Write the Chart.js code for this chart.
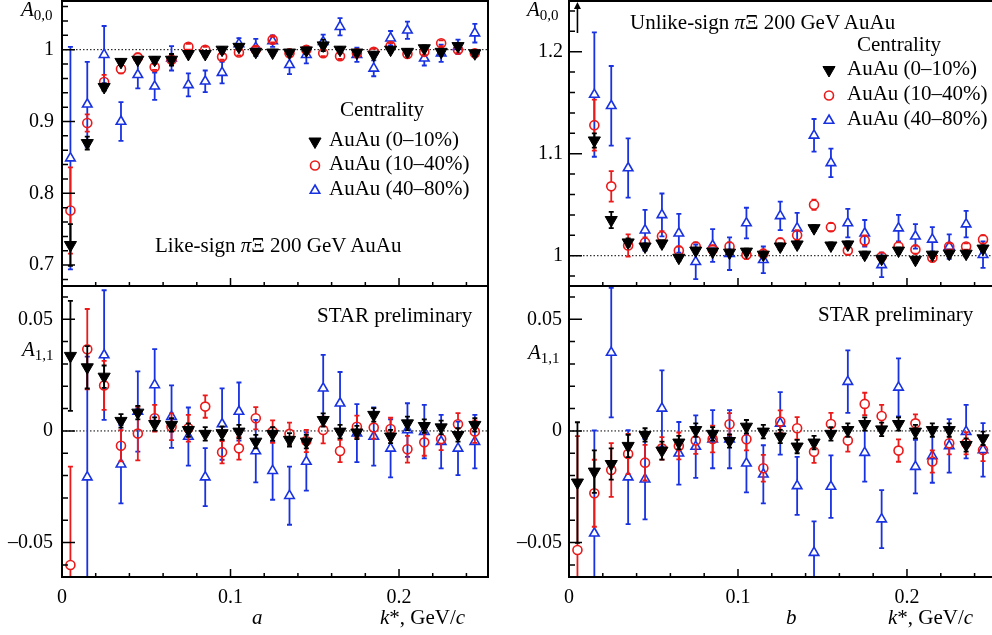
<!DOCTYPE html>
<html>
<head>
<meta charset="utf-8">
<script src="https://cdn.jsdelivr.net/npm/chart.js@4.4.1/dist/chart.umd.min.js"></script>
<style>
html, body { margin: 0; padding: 0; background: #fff; overflow: hidden; width: 992px; height: 635px; }
#wrap { position: relative; width: 992px; height: 635px; overflow: hidden; }
canvas { position: absolute; left: 0; top: 0; }
.t { position: absolute; font-family: "Liberation Serif", "Times New Roman", serif; font-size: 21px; line-height: 1; white-space: nowrap; color: #000; }
.t i { font-style: italic; }
.t sub { font-size: 15px; vertical-align: baseline; position: relative; top: 4px; }
</style>
</head>
<body>
<div id="wrap">
  <canvas id="aTop" width="1000" height="635"></canvas>
  <canvas id="aBot" width="1000" height="635"></canvas>
  <canvas id="bTop" width="1000" height="635"></canvas>
  <canvas id="bBot" width="1000" height="635"></canvas>

  <div class="t" style="left:21px;top:-1px"><i>A</i><sub>0,0</sub></div>
  <div class="t" style="left:22px;top:339px"><i>A</i><sub>1,1</sub></div>
  <div class="t" style="left:527px;top:-1px"><i>A</i><sub>0,0</sub></div>
  <div class="t" style="left:528px;top:342px"><i>A</i><sub>1,1</sub></div>

  <div class="t" style="left:155px;top:235px">Like-sign <i>π</i>Ξ 200 GeV AuAu</div>
  <div class="t" style="left:340px;top:99px">Centrality</div>
  <div class="t" style="left:329px;top:129px">AuAu (0–10%)</div>
  <div class="t" style="left:329px;top:153px">AuAu (10–40%)</div>
  <div class="t" style="left:329px;top:178px">AuAu (40–80%)</div>
  <div class="t" style="left:317px;top:305px">STAR preliminary</div>

  <div class="t" style="left:630px;top:12px">Unlike-sign <i>π</i>Ξ 200 GeV AuAu</div>
  <div class="t" style="left:857px;top:34px">Centrality</div>
  <div class="t" style="left:847px;top:58px">AuAu (0–10%)</div>
  <div class="t" style="left:847px;top:83px">AuAu (10–40%)</div>
  <div class="t" style="left:847px;top:108px">AuAu (40–80%)</div>
  <div class="t" style="left:818px;top:304px">STAR preliminary</div>

  <div class="t" style="left:252px;top:607px"><i>a</i></div>
  <div class="t" style="left:380px;top:607px"><i>k</i>*, GeV/<i>c</i></div>
  <div class="t" style="left:786px;top:607px"><i>b</i></div>
  <div class="t" style="left:888px;top:607px"><i>k</i>*, GeV/<i>c</i></div>
</div>
<script>
// k* bin centres, GeV/c
const kStar = [0.005, 0.015, 0.025, 0.035, 0.045, 0.055, 0.065, 0.075, 0.085, 0.095,
               0.105, 0.115, 0.125, 0.135, 0.145, 0.155, 0.165, 0.175, 0.185, 0.195,
               0.205, 0.215, 0.225, 0.235, 0.245];

const xTickVals = [0, 0.1, 0.2];
const yTicksA00like = [0.7, 0.8, 0.9, 1];
const yTicksA00unlike = [1, 1.1, 1.2];
const yTicksA11 = [-0.05, 0, 0.05];

// like-sign A00
const likeA00_c010 = [0.728, 0.870, 0.948, 0.983, 0.986, 0.986, 0.986, 0.994, 0.994, 1.000, 1.004, 0.997, 0.996, 0.996, 0.999, 1.006, 1.000, 0.996, 0.993, 1.000, 0.997, 1.002, 0.997, 1.005, 0.995];
const likeA00_c010Err = [0.029, 0.009, 0.005, 0.004, 0.004, 0.004, 0.008, 0.004, 0.004, 0.004, 0.004, 0.004, 0.004, 0.004, 0.004, 0.008, 0.004, 0.004, 0.004, 0.004, 0.004, 0.004, 0.004, 0.004, 0.004];
const likeA00_c1040 = [0.776, 0.898, 0.955, 0.973, 0.989, 0.976, 0.986, 1.004, 1.000, 0.990, 0.996, 1.000, 1.014, 0.995, 1.000, 0.995, 0.991, 0.995, 0.997, 1.005, 0.994, 0.997, 1.009, 1.000, 0.995];
const likeA00_c1040Err = [0.060, 0.012, 0.010, 0.006, 0.006, 0.004, 0.006, 0.004, 0.004, 0.004, 0.004, 0.004, 0.004, 0.004, 0.004, 0.004, 0.004, 0.004, 0.004, 0.004, 0.004, 0.004, 0.004, 0.004, 0.004];
const likeA00_c4080 = [0.849, 0.924, 0.993, 0.900, 0.965, 0.949, 0.988, 0.951, 0.956, 0.968, 1.008, 1.003, 1.012, 0.979, 0.993, 1.011, 1.032, 0.993, 0.974, 1.016, 1.027, 0.988, 0.995, 1.004, 1.023];
const likeA00_c4080Err = [0.155, 0.059, 0.040, 0.027, 0.019, 0.019, 0.017, 0.016, 0.015, 0.015, 0.008, 0.012, 0.008, 0.013, 0.012, 0.010, 0.012, 0.010, 0.011, 0.010, 0.012, 0.010, 0.012, 0.010, 0.013];

// like-sign A11
const likeA11_c010 = [0.0336, 0.0285, 0.0243, 0.0045, 0.0082, 0.0031, 0.0027, 0.0004, -0.0013, -0.0010, -0.0003, -0.0048, -0.0013, -0.0040, -0.0048, 0.0049, -0.0003, -0.0007, 0.0072, -0.0025, 0.0034, 0.0022, 0.0016, -0.0018, 0.0027];
const likeA11_c010Err = [0.0246, 0.0095, 0.005, 0.003, 0.003, 0.003, 0.003, 0.003, 0.003, 0.003, 0.003, 0.003, 0.003, 0.003, 0.003, 0.003, 0.003, 0.003, 0.003, 0.003, 0.003, 0.003, 0.003, 0.003, 0.003];
const likeA11_c1040 = [-0.0600, 0.0366, 0.0204, -0.0066, -0.0012, 0.0057, 0.0019, 0.0012, 0.0109, -0.0095, -0.0078, 0.0057, -0.0003, -0.0013, -0.0045, 0.0004, -0.0090, 0.0019, 0.0015, 0.0009, -0.0082, -0.0051, -0.0036, 0.0030, -0.0003];
const likeA11_c1040Err = [0.044, 0.018, 0.011, 0.007, 0.012, 0.006, 0.006, 0.006, 0.005, 0.005, 0.005, 0.005, 0.005, 0.005, 0.005, 0.006, 0.005, 0.005, 0.005, 0.005, 0.006, 0.006, 0.005, 0.005, 0.005];
const likeA11_c4080 = [null, -0.0207, 0.0340, -0.0149, 0.0087, 0.0206, 0.0064, -0.0025, -0.0207, 0.0031, 0.0087, -0.0090, -0.0178, -0.0290, -0.0137, 0.0191, 0.0124, -0.0010, -0.0025, -0.0078, 0.0004, -0.0003, -0.0048, -0.0078, -0.0048];
const likeA11_c4080Err = [null, 0.054, 0.029, 0.0175, 0.018, 0.016, 0.014, 0.013, 0.013, 0.016, 0.013, 0.014, 0.013, 0.013, 0.013, 0.015, 0.014, 0.013, 0.013, 0.013, 0.012, 0.012, 0.012, 0.012, 0.012];

// unlike-sign A00 (first bin is off scale, marked with an arrow)
const unlikeA00_c010 = [null, 1.113, 1.035, 1.013, 1.009, 1.012, 0.998, 1.005, 1.004, 1.003, 1.004, 1.001, 1.009, 1.011, 1.027, 1.010, 1.011, 1.001, 0.997, 1.005, 0.996, 1.001, 1.002, 1.002, 1.007];
const unlikeA00_c010Err = [null, 0.007, 0.008, 0.004, 0.003, 0.003, 0.003, 0.003, 0.003, 0.003, 0.003, 0.003, 0.003, 0.003, 0.003, 0.003, 0.003, 0.003, 0.003, 0.003, 0.003, 0.003, 0.003, 0.003, 0.003];
const unlikeA00_c1040 = [null, 1.128, 1.068, 1.010, 1.013, 1.019, 1.005, 1.009, 1.006, 1.009, 1.001, 1.002, 1.013, 1.020, 1.050, 1.028, 1.005, 1.015, 0.999, 1.009, 1.006, 0.998, 1.009, 1.009, 1.016];
const unlikeA00_c1040Err = [null, 0.025, 0.015, 0.011, 0.005, 0.005, 0.004, 0.004, 0.004, 0.004, 0.004, 0.004, 0.004, 0.005, 0.005, 0.004, 0.004, 0.005, 0.004, 0.004, 0.004, 0.003, 0.003, 0.003, 0.004];
const unlikeA00_c4080 = [null, 1.158, 1.147, 1.086, 1.025, 1.040, 1.022, 0.994, 1.010, 1.002, 1.032, 0.996, 1.039, 1.027, 1.118, 1.091, 1.032, 1.022, 0.991, 1.027, 1.019, 1.016, 1.009, 1.031, 1.001];
const unlikeA00_c4080Err = [null, 0.061, 0.039, 0.029, 0.020, 0.021, 0.019, 0.017, 0.016, 0.016, 0.015, 0.013, 0.014, 0.015, 0.016, 0.014, 0.014, 0.013, 0.012, 0.013, 0.012, 0.012, 0.012, 0.013, 0.013];
const unlikeA00_offScaleK = 0.005;

// unlike-sign A11
const unlikeA11_c010 = [-0.0231, -0.0182, -0.0148, -0.0067, -0.0018, -0.0088, -0.0052, 0.0004, -0.0013, -0.0045, 0.0019, -0.0003, -0.0025, -0.0070, -0.0052, -0.0013, 0.0004, 0.0031, 0.0007, 0.0031, -0.0003, 0.0004, 0.0004, -0.0063, -0.0033];
const unlikeA11_c010Err = [0.027, 0.0095, 0.007, 0.005, 0.003, 0.004, 0.003, 0.003, 0.003, 0.003, 0.003, 0.003, 0.003, 0.003, 0.003, 0.003, 0.003, 0.003, 0.003, 0.003, 0.003, 0.003, 0.003, 0.003, 0.003];
const unlikeA11_c1040 = [-0.0533, -0.0279, -0.0175, -0.0103, -0.0142, -0.0078, -0.0067, -0.0043, -0.0036, 0.0030, -0.0037, -0.0167, 0.0042, 0.0012, -0.0093, 0.0031, -0.0043, 0.0121, 0.0067, -0.0088, 0.0034, -0.0137, -0.0055, -0.0055, -0.0085];
const unlikeA11_c1040Err = [0.051, 0.015, 0.012, 0.009, 0.008, 0.005, 0.006, 0.006, 0.006, 0.005, 0.005, 0.006, 0.005, 0.005, 0.005, 0.005, 0.005, 0.005, 0.005, 0.005, 0.004, 0.005, 0.005, 0.005, 0.005];
const unlikeA11_c4080 = [null, -0.0458, 0.0351, -0.0207, -0.0216, 0.0101, -0.0100, -0.0070, -0.0037, -0.0037, -0.0145, -0.0194, 0.0034, -0.0246, -0.0545, -0.0249, 0.0221, -0.0097, -0.0395, 0.0195, -0.0160, -0.0112, -0.0067, -0.0003, -0.0085];
const unlikeA11_c4080Err = [null, 0.046, 0.029, 0.021, 0.018, 0.017, 0.014, 0.014, 0.013, 0.013, 0.013, 0.013, 0.014, 0.013, 0.014, 0.014, 0.014, 0.013, 0.013, 0.013, 0.012, 0.012, 0.012, 0.012, 0.012];

const W = 1000, H = 635;
const RED = 'rgb(235,25,25)';
const BLUE = 'rgb(25,50,225)';
const FONT = '"Liberation Serif", "Times New Roman", serif';

const STYLE = {
    c010: { label: 'AuAu (0–10%)', pointStyle: 'triangle', pointRotation: 180, pointRadius: 7,
            pointBackgroundColor: '#000', pointBorderColor: '#000', pointBorderWidth: 1, gapTop: 0, gapBot: 0 },
    c1040: { label: 'AuAu (10–40%)', pointStyle: 'circle', pointRotation: 0, pointRadius: 4.5,
             pointBackgroundColor: 'rgba(0,0,0,0)', pointBorderColor: RED, pointBorderWidth: 1.6, gapTop: 4.5, gapBot: 4.5 },
    c4080: { label: 'AuAu (40–80%)', pointStyle: 'triangle', pointRotation: 0, pointRadius: 5.5,
             pointBackgroundColor: 'rgba(0,0,0,0)', pointBorderColor: BLUE, pointBorderWidth: 1.6, gapTop: 5.5, gapBot: 2.8 }
};

function fmt(v) {
    const s = String(Math.round(v * 1000) / 1000);
    return v < 0 ? '–' + s.slice(1) : s;
}

const framePlugin = {
    id: 'frame',
    beforeDatasetsDraw(chart, args, o) {
        const { ctx, chartArea: a, scales: { y } } = chart;
        const yy = y.getPixelForValue(o.refLine);
        ctx.save();
        ctx.strokeStyle = '#000';
        ctx.lineWidth = 1;
        ctx.setLineDash([1.5, 2]);
        ctx.beginPath();
        ctx.moveTo(a.left, yy);
        ctx.lineTo(a.right, yy);
        ctx.stroke();
        ctx.restore();
    },
    beforeDatasetDraw(chart, args) {
        // error bars, drawn just under each dataset's markers
        const ds = chart.data.datasets[args.index];
        const { ctx, chartArea: a, scales: { y } } = chart;
        ctx.save();
        ctx.beginPath();
        ctx.rect(a.left, a.top, a.width, a.height);
        ctx.clip();
        ctx.strokeStyle = ds.pointBorderColor;
        ctx.lineWidth = 1.8;
        args.meta.data.forEach((pt, j) => {
            const p = ds.data[j];
            const yt = y.getPixelForValue(p.y + p.e);
            const yb = y.getPixelForValue(p.y - p.e);
            ctx.beginPath();
            if (yt < pt.y - ds.gapTop) { ctx.moveTo(pt.x, yt); ctx.lineTo(pt.x, pt.y - ds.gapTop); }
            if (yb > pt.y + ds.gapBot) { ctx.moveTo(pt.x, pt.y + ds.gapBot); ctx.lineTo(pt.x, yb); }
            ctx.moveTo(pt.x - 2.5, yt); ctx.lineTo(pt.x + 2.5, yt);
            ctx.moveTo(pt.x - 2.5, yb); ctx.lineTo(pt.x + 2.5, yb);
            ctx.stroke();
        });
        ctx.restore();
    },
    afterDatasetsDraw(chart, args, o) {
        const { ctx, chartArea: a, scales: { x, y } } = chart;
        ctx.save();
        ctx.strokeStyle = '#000';
        ctx.lineWidth = 1.5;
        ctx.beginPath();
        for (let k = Math.ceil(y.min / o.yMinor - 1e-6); k * o.yMinor <= y.max + 1e-9; k++) {
            const v = k * o.yMinor;
            const major = Math.abs(v / o.yMajor - Math.round(v / o.yMajor)) < 1e-6;
            const py = y.getPixelForValue(v);
            ctx.moveTo(a.left, py);
            ctx.lineTo(a.left + (major ? 13 : 6), py);
        }
        for (let k = Math.ceil(x.min / o.xMinor - 1e-6); k * o.xMinor <= x.max + 1e-9; k++) {
            const v = k * o.xMinor;
            const major = Math.abs(v / o.xMajor - Math.round(v / o.xMajor)) < 1e-6;
            const px = x.getPixelForValue(v);
            ctx.moveTo(px, a.bottom);
            ctx.lineTo(px, a.bottom - (major ? 8 : 4));
        }
        ctx.stroke();

        ctx.lineWidth = 2;
        ctx.strokeRect(a.left, a.top, a.width, a.height);

        if (o.legend) {
            chart.data.datasets.forEach((ds, i) => {
                ctx.fillStyle = ds.pointBackgroundColor;
                ctx.strokeStyle = ds.pointBorderColor;
                ctx.lineWidth = ds.pointBorderWidth;
                Chart.helpers.drawPoint(ctx, { pointStyle: ds.pointStyle, radius: ds.pointRadius,
                    rotation: ds.pointRotation, borderWidth: ds.pointBorderWidth }, o.legend.x, o.legend.y[i]);
            });
        }

        if (o.arrowK !== undefined) {
            const px = x.getPixelForValue(o.arrowK);
            ctx.strokeStyle = '#000';
            ctx.fillStyle = '#000';
            ctx.lineWidth = 1.6;
            ctx.beginPath();
            ctx.moveTo(px, a.top + 32);
            ctx.lineTo(px, a.top + 6);
            ctx.stroke();
            ctx.beginPath();
            ctx.moveTo(px, a.top + 1);
            ctx.lineTo(px - 3.5, a.top + 8);
            ctx.lineTo(px + 3.5, a.top + 8);
            ctx.closePath();
            ctx.fill();
        }
        ctx.restore();
    }
};

function makePanel(id, p) {
    const showX = p.showX;
    const area = p.area;
    return new Chart(document.getElementById(id), {
        type: 'scatter',
        data: {
            datasets: p.series.map(s => Object.assign({
                data: kStar.map((k, i) => ({ x: k, y: s.y[i], e: s.e[i] })).filter(q => q.y !== null)
            }, STYLE[s.kind]))
        },
        options: {
            responsive: false,
            animation: false,
            events: [],
            layout: {
                autoPadding: false,
                padding: { left: 0, top: area.top, right: W - area.right, bottom: showX ? 0 : H - area.bottom }
            },
            plugins: {
                legend: { display: false },
                tooltip: { enabled: false },
                frame: Object.assign({ xMajor: 0.1, xMinor: 0.02 }, p.frame)
            },
            scales: {
                x: {
                    type: 'linear', min: p.xMin, max: p.xMax, display: showX,
                    grid: { display: false, drawTicks: false }, border: { display: false },
                    afterFit: s => {
                        s.height = showX ? H - area.bottom : 0;
                        s.paddingLeft = 0; s.paddingRight = 0;
                    },
                    afterBuildTicks: s => { s.ticks = xTickVals.map(v => ({ value: v })); },
                    ticks: { padding: 9, color: '#000', autoSkip: false, maxRotation: 0,
                             font: { family: FONT, size: 20 }, callback: v => fmt(v) }
                },
                y: {
                    type: 'linear', position: 'left', min: p.yMin, max: p.yMax,
                    grid: { display: false, drawTicks: false }, border: { display: false },
                    afterFit: s => {
                        s.width = area.left;
                        s.paddingTop = 0; s.paddingBottom = 0;
                    },
                    afterBuildTicks: s => { s.ticks = p.yTicks.map(v => ({ value: v })); },
                    ticks: { padding: p.yPad, color: '#000', autoSkip: false,
                             font: { family: FONT, size: 20 }, callback: v => fmt(v) }
                }
            }
        },
        plugins: [framePlugin]
    });
}

makePanel('aTop', {
    area: { left: 62, top: 1, right: 488, bottom: 286 }, showX: false,
    xMin: 0, xMax: 0.2528, yMin: 0.6709, yMax: 1.0678, yTicks: yTicksA00like, yPad: 8,
    series: [
        { kind: 'c010', y: likeA00_c010, e: likeA00_c010Err },
        { kind: 'c1040', y: likeA00_c1040, e: likeA00_c1040Err },
        { kind: 'c4080', y: likeA00_c4080, e: likeA00_c4080Err }
    ],
    frame: { refLine: 1, yMajor: 0.1, yMinor: 0.02, legend: { x: 315, y: [141.5, 165.5, 190.5] } }
});

makePanel('aBot', {
    area: { left: 62, top: 286, right: 488, bottom: 577 }, showX: true,
    xMin: 0, xMax: 0.2528, yMin: -0.0654, yMax: 0.0649, yTicks: yTicksA11, yPad: 9,
    series: [
        { kind: 'c010', y: likeA11_c010, e: likeA11_c010Err },
        { kind: 'c1040', y: likeA11_c1040, e: likeA11_c1040Err },
        { kind: 'c4080', y: likeA11_c4080, e: likeA11_c4080Err }
    ],
    frame: { refLine: 0, yMajor: 0.05, yMinor: 0.01 }
});

makePanel('bTop', {
    area: { left: 569, top: 1, right: 993, bottom: 286 }, showX: false,
    xMin: 0, xMax: 0.2509, yMin: 0.9703, yMax: 1.2497, yTicks: yTicksA00unlike, yPad: 6,
    series: [
        { kind: 'c010', y: unlikeA00_c010, e: unlikeA00_c010Err },
        { kind: 'c1040', y: unlikeA00_c1040, e: unlikeA00_c1040Err },
        { kind: 'c4080', y: unlikeA00_c4080, e: unlikeA00_c4080Err }
    ],
    frame: { refLine: 1, yMajor: 0.1, yMinor: 0.02, legend: { x: 829, y: [70, 95.5, 120.5] },
             arrowK: unlikeA00_offScaleK }
});

makePanel('bBot', {
    area: { left: 569, top: 286, right: 993, bottom: 577 }, showX: true,
    xMin: 0, xMax: 0.2509, yMin: -0.0654, yMax: 0.0649, yTicks: yTicksA11, yPad: 7,
    series: [
        { kind: 'c010', y: unlikeA11_c010, e: unlikeA11_c010Err },
        { kind: 'c1040', y: unlikeA11_c1040, e: unlikeA11_c1040Err },
        { kind: 'c4080', y: unlikeA11_c4080, e: unlikeA11_c4080Err }
    ],
    frame: { refLine: 0, yMajor: 0.05, yMinor: 0.01 }
});
</script>
</body>
</html>
